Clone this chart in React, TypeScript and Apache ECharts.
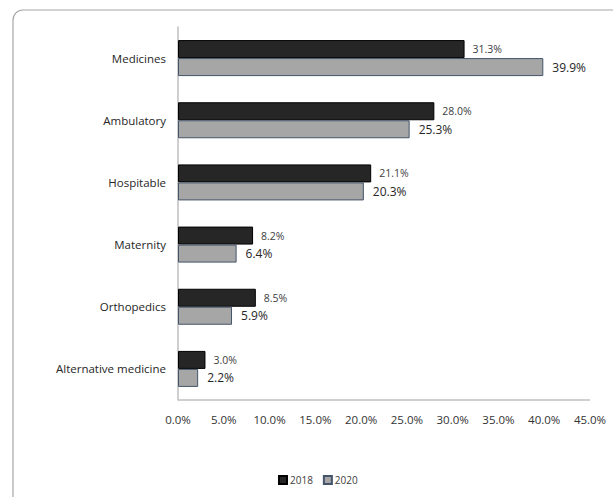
import React, { useEffect, useRef } from "react";
import * as echarts from "echarts";

const categories = ["Medicines", "Ambulatory", "Hospitable", "Maternity", "Orthopedics", "Alternative medicine"];
const values2018 = [31.3, 28.0, 21.1, 8.2, 8.5, 3.0];
const values2020 = [39.9, 25.3, 20.3, 6.4, 5.9, 2.2];
const seriesNames = ["2018", "2020"];

export default function App() {
  const ref = useRef<HTMLDivElement>(null);
  useEffect(() => {
    if (!ref.current) return;
    const chart = echarts.init(ref.current, null, { renderer: "svg" });
    const font = "'Open Sans', 'Liberation Sans', sans-serif";
    chart.setOption({
      animation: false,
      graphic: [
        {
          type: "rect",
          shape: { x: 13, y: 10, width: 700, height: 600, r: 10 },
          style: { fill: "none", stroke: "#a6a6a6", lineWidth: 1.2 },
          silent: true,
        },
        {
          type: "line",
          shape: { x1: 178, y1: 400, x2: 590, y2: 400 },
          style: { stroke: "#bfbfbf", lineWidth: 1.5 },
          silent: true,
        },
      ],
      legend: {
        data: seriesNames,
        top: 470,
        left: 273,
        itemWidth: 8,
        itemHeight: 8,
        itemGap: 10,
        icon: "rect",
        textStyle: { fontFamily: font, fontSize: 10, color: "#404040", padding: [0, 0, 0, -2] },
      },
      grid: { left: 178, right: 23, top: 27, bottom: 97, containLabel: false },
      xAxis: {
        type: "value",
        min: 0,
        max: 45,
        interval: 5,
        axisLine: { show: false },
        axisTick: { show: false },
        splitLine: { show: false },
        axisLabel: {
          fontFamily: font,
          fontSize: 11.5,
          color: "#333333",
          margin: 13,
          formatter: (v: number) => v.toFixed(1) + "%",
        },
      },
      yAxis: {
        type: "category",
        data: categories,
        inverse: true,
        axisLine: { show: true, lineStyle: { color: "#bfbfbf", width: 1.5 } },
        axisTick: { show: false },
        axisLabel: { fontFamily: font, fontSize: 11.5, color: "#262626", margin: 12 },
      },
      series: [
        {
          name: "2018",
          type: "bar",
          data: values2018,
          barWidth: 18,
          barGap: "0%",
          itemStyle: { color: "#262626", borderColor: "#000000", borderWidth: 1 },
          label: {
            show: true,
            position: "right",
            distance: 8,
            fontFamily: font,
            fontSize: 10.5,
            color: "#404040",
            formatter: (p: any) => p.value.toFixed(1) + "%",
          },
        },
        {
          name: "2020",
          type: "bar",
          data: values2020,
          barWidth: 18,
          barGap: "0%",
          itemStyle: { color: "#a6a6a6", borderColor: "#44546a", borderWidth: 1 },
          label: {
            show: true,
            position: "right",
            distance: 9,
            fontFamily: font,
            fontSize: 12,
            color: "#262626",
            formatter: (p: any) => p.value.toFixed(1) + "%",
          },
        },
      ],
    });
    return () => chart.dispose();
  }, []);
  return <div ref={ref} style={{ width: 613, height: 497, position: "absolute", left: 0, top: 0 }} />;
}
